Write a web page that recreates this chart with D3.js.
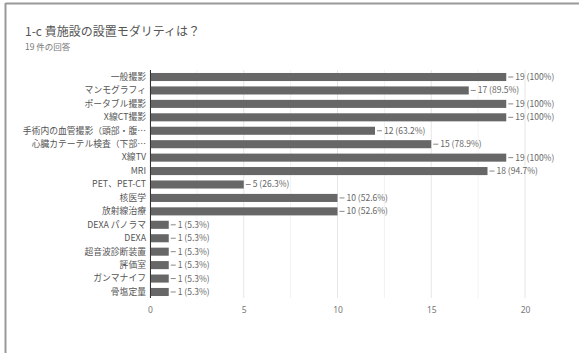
<!DOCTYPE html>
<html><head><meta charset="utf-8">
<script src="https://cdn.jsdelivr.net/npm/d3@7/dist/d3.min.js"></script>
<style>body{margin:0;background:#fff;}svg{display:block;font-family:"Noto Sans CJK JP","Noto Sans",sans-serif;}</style>
</head><body><div id="chart"></div>
<script>
const title = "1-c 貴施設の設置モダリティは？";
const subtitle = "19 件の回答";
const categories = ["一般撮影","マンモグラフィ","ポータブル撮影","X線CT撮影","手術内の血管撮影（頭部・腹…","心臓カテーテル検査（下部…","X線TV","MRI","PET、PET-CT","核医学","放射線治療","DEXA パノラマ","DEXA","超音波診断装置","評価室","ガンマナイフ","骨塩定量"];
const values = [19,17,19,19,12,15,19,18,5,10,10,1,1,1,1,1,1];
const valueLabels = ["19 (100%)","17 (89.5%)","19 (100%)","19 (100%)","12 (63.2%)","15 (78.9%)","19 (100%)","18 (94.7%)","5 (26.3%)","10 (52.6%)","10 (52.6%)","1 (5.3%)","1 (5.3%)","1 (5.3%)","1 (5.3%)","1 (5.3%)","1 (5.3%)"];
const tickValues = [0,5,10,15,20];
const gridValues = [0,2.5,5,7.5,10,12.5,15,17.5,20];

const W=579,H=353;
const svg=d3.select("#chart").append("svg").attr("width",W).attr("height",H);
svg.append("line").attr("x1",5.5).attr("x2",W).attr("y1",3.5).attr("y2",3.5).attr("stroke","#9a9a9a").attr("stroke-width",2);
svg.append("line").attr("x1",5.5).attr("x2",5.5).attr("y1",3).attr("y2",H).attr("stroke","#9a9a9a").attr("stroke-width",2);

svg.append("text").attr("x",25).attr("y",36).attr("font-size",12).attr("fill","#555").text(title);
svg.append("text").attr("x",25).attr("y",50).attr("font-size",8.5).attr("fill","#777").text(subtitle);

const x=d3.scaleLinear().domain([0,20]).range([150,525]);
const y=d3.scaleBand().domain(categories).range([70.3,298.7]).paddingInner(0.4).paddingOuter(0.2);

const g=svg.append("g");
g.selectAll("line.grid").data(gridValues).join("line").attr("class","grid")
 .attr("x1",d=>x(d)).attr("x2",d=>x(d)).attr("y1",70).attr("y2",298)
 .attr("stroke",(d)=>d%5===0?"#e6e6e6":"#f2f2f2").attr("stroke-width",1);

g.selectAll("rect.bar").data(values).join("rect").attr("class","bar")
 .attr("x",x(0)).attr("y",(d,i)=>y(categories[i])).attr("width",d=>x(d)-x(0)).attr("height",y.bandwidth())
 .attr("fill","#676767");

g.append("line").attr("x1",x(0)+0.5).attr("x2",x(0)+0.5).attr("y1",70).attr("y2",298).attr("stroke","#333").attr("stroke-width",1);

values.forEach((v,i)=>{
  const cy=y(categories[i])+y.bandwidth()/2;
  g.append("line").attr("x1",x(v)+2).attr("x2",x(v)+7).attr("y1",cy).attr("y2",cy).attr("stroke","#888");
  g.append("text").attr("x",x(v)+9).attr("y",cy).attr("dy","0.35em").attr("font-size",8.5).attr("fill","#666").text(valueLabels[i]);
});

const yAxis=d3.axisLeft(y).tickSize(0).tickPadding(4);
const ya=svg.append("g").attr("transform",`translate(${x(0)},0)`).call(yAxis);
ya.select(".domain").remove();
ya.selectAll("text").attr("font-size",8.8).attr("fill","#555").attr("font-family","'Noto Sans CJK JP',sans-serif");

const xAxis=d3.axisBottom(x).tickValues(tickValues).tickSize(0).tickPadding(6);
const xa=svg.append("g").attr("transform","translate(0,301)").call(xAxis);
xa.select(".domain").remove();
xa.selectAll("text").attr("font-size",8.5).attr("fill","#777").attr("font-family","'Noto Sans',sans-serif");
</script></body></html>
